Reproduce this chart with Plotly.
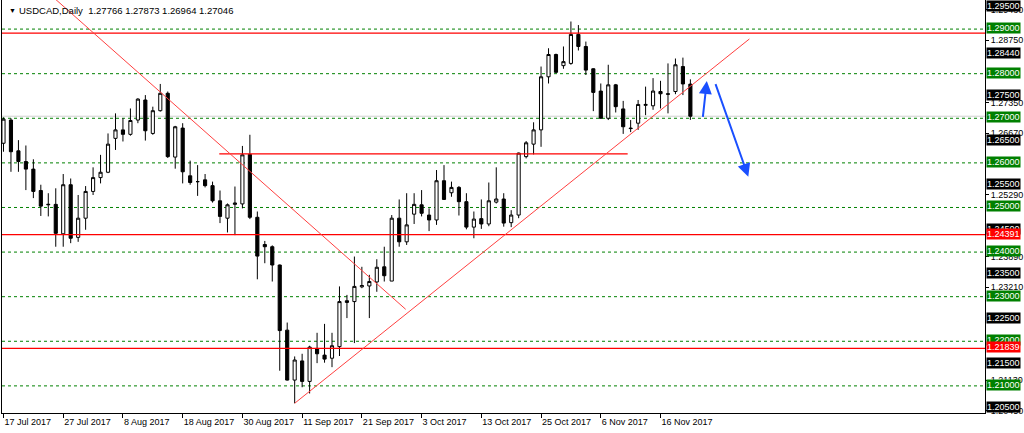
import plotly.graph_objects as go
import pandas as pd

# ---------------- data ----------------
dates = list(pd.bdate_range("2017-07-17", periods=93))

opens = [1.2644, 1.2696, 1.2627, 1.2603, 1.2586, 1.2538, 1.2506, 1.2507, 1.2441, 1.2551,
         1.2433, 1.2476, 1.2536, 1.2567, 1.2579, 1.2655, 1.2674, 1.2664, 1.2696, 1.2741,
         1.2666, 1.2717, 1.2756, 1.2613, 1.2678, 1.2571, 1.2558, 1.2562, 1.2549, 1.2515,
         1.2476, 1.2507, 1.2508, 1.2619, 1.2478, 1.2417, 1.2412, 1.2371, 1.2225, 1.2113,
         1.2156, 1.2110, 1.2184, 1.2169, 1.2162, 1.2188, 1.2287, 1.2289, 1.2322, 1.2324,
         1.2333, 1.2367, 1.2335, 1.2476, 1.2423, 1.2485, 1.2506, 1.2483, 1.2472, 1.2560,
         1.2533, 1.2545, 1.2513, 1.2456, 1.2475, 1.2463, 1.2512, 1.2519, 1.2466, 1.2483,
         1.2614, 1.2642, 1.2674, 1.2793, 1.2843, 1.2818, 1.2823, 1.2888, 1.2861, 1.2811,
         1.2761, 1.2700, 1.2775, 1.2721, 1.2678, 1.2689, 1.2729, 1.2728, 1.2760, 1.2755,
         1.2760, 1.2816, 1.27766]
highs = [1.2702, 1.2700, 1.2651, 1.2639, 1.2608, 1.2551, 1.2532, 1.2543, 1.2575, 1.2565,
         1.2528, 1.2548, 1.2590, 1.2618, 1.2666, 1.2711, 1.2700, 1.2722, 1.2745, 1.2752,
         1.2726, 1.2777, 1.2760, 1.2683, 1.2689, 1.2605, 1.2595, 1.2575, 1.2558, 1.2538,
         1.2509, 1.2547, 1.2638, 1.2663, 1.2491, 1.2425, 1.2415, 1.2372, 1.2242, 1.2166,
         1.2172, 1.2190, 1.2219, 1.2239, 1.2219, 1.2323, 1.2304, 1.2390, 1.2367, 1.2349,
         1.2384, 1.2412, 1.2483, 1.2518, 1.2532, 1.2532, 1.2539, 1.2498, 1.2584, 1.2595,
         1.2558, 1.2548, 1.2532, 1.2491, 1.2518, 1.2556, 1.2590, 1.2532, 1.2494, 1.2623,
         1.2649, 1.2691, 1.2816, 1.2857, 1.2845, 1.2861, 1.2917, 1.2909, 1.2872, 1.2812,
         1.2778, 1.2820, 1.2777, 1.2739, 1.2696, 1.2741, 1.2771, 1.2790, 1.2784, 1.2823,
         1.2834, 1.2836, 1.27873]
lows = [1.2625, 1.2580, 1.2580, 1.2539, 1.2521, 1.2481, 1.2480, 1.2412, 1.2412, 1.2420,
        1.2423, 1.2450, 1.2528, 1.2554, 1.2577, 1.2629, 1.2648, 1.2661, 1.2689, 1.2650,
        1.2663, 1.2715, 1.2611, 1.2587, 1.2554, 1.2551, 1.2526, 1.2545, 1.2511, 1.2465,
        1.2444, 1.2438, 1.2498, 1.2474, 1.2339, 1.2375, 1.2334, 1.2134, 1.2112, 1.2061,
        1.2097, 1.2083, 1.2151, 1.2152, 1.2142, 1.2167, 1.2252, 1.2196, 1.2319, 1.2252,
        1.2311, 1.2334, 1.2335, 1.2412, 1.2416, 1.2463, 1.2480, 1.2447, 1.2461, 1.2517,
        1.2524, 1.2482, 1.2451, 1.2431, 1.2452, 1.2458, 1.2509, 1.2457, 1.2456, 1.2476,
        1.2610, 1.2619, 1.2636, 1.2778, 1.2801, 1.2811, 1.2820, 1.2852, 1.2797, 1.2716,
        1.2699, 1.2696, 1.2713, 1.2665, 1.2669, 1.2674, 1.2707, 1.2719, 1.2722, 1.2711,
        1.2754, 1.2752, 1.26964]
closes = [1.2698, 1.2625, 1.2603, 1.2586, 1.2536, 1.2503, 1.2507, 1.2442, 1.2551, 1.2431,
          1.2476, 1.2536, 1.2567, 1.2579, 1.2642, 1.2674, 1.2664, 1.2695, 1.2743, 1.2672,
          1.2717, 1.2756, 1.2614, 1.2681, 1.2580, 1.2556, 1.2558, 1.2549, 1.2515, 1.2480,
          1.2506, 1.2510, 1.2618, 1.2478, 1.2391, 1.2412, 1.2371, 1.2224, 1.2113, 1.2158,
          1.2110, 1.2187, 1.2172, 1.2160, 1.2190, 1.2289, 1.2291, 1.2323, 1.2325, 1.2334,
          1.2366, 1.2347, 1.2476, 1.2423, 1.2461, 1.2507, 1.2487, 1.2472, 1.2560, 1.2518,
          1.2545, 1.2513, 1.2456, 1.2474, 1.2463, 1.2515, 1.2519, 1.2465, 1.2483, 1.2622,
          1.2645, 1.2674, 1.2793, 1.2843, 1.2803, 1.2827, 1.2888, 1.2861, 1.2808, 1.2758,
          1.2700, 1.2775, 1.2726, 1.2681, 1.2677, 1.2731, 1.2731, 1.2761, 1.2755, 1.2754,
          1.2820, 1.2777, 1.27046]

tick_labels = ["17 Jul 2017", "27 Jul 2017", "8 Aug 2017", "18 Aug 2017", "30 Aug 2017",
               "11 Sep 2017", "21 Sep 2017", "3 Oct 2017", "13 Oct 2017", "25 Oct 2017",
               "6 Nov 2017", "16 Nov 2017"]

green_levels = [1.29, 1.28, 1.27, 1.26, 1.25, 1.24, 1.23, 1.22, 1.21]
red_levels = [1.28910, 1.24391, 1.21839]
red_label_levels = [1.24391, 1.21839]
support_level = 1.2620          # short horizontal
bid_level = 1.27046
black_labels = [1.295, 1.2844, 1.275, 1.265, 1.255, 1.245, 1.235, 1.225, 1.215, 1.205]
plain_ticks = [1.2943, 1.2875, 1.2735, 1.2667, 1.2529, 1.2389, 1.2321, 1.2113, 1.2045]

# trend lines: (bar index, price) end points
down_trend = [(5.0, 1.29960), (53.87, 1.22717)]
up_trend = [(39.0, 1.2061), (99.9, 1.28778)]
support_span = (28.9, 83.6)
arrow_up = [(93.65, 1.2700), (94.2, 1.27836)]
arrow_down = [(95.3, 1.27798), (99.76, 1.25691)]

# ---------------- figure ----------------
x_idx = list(range(len(dates)))
date_str = [f"{d.day} {d.strftime('%b %Y')}" for d in dates]
tickvals = [date_str.index(t) for t in tick_labels]

FONT = "Liberation Sans, Arial, sans-serif"

fig = go.Figure()
fig.add_trace(go.Candlestick(
    x=x_idx, open=opens, high=highs, low=lows, close=closes,
    increasing=dict(fillcolor="white", line=dict(color="black", width=1)),
    decreasing=dict(fillcolor="black", line=dict(color="black", width=1)),
    whiskerwidth=0, hoverinfo="skip", showlegend=False,
))

shapes = []
for lv in green_levels:
    shapes.append(dict(type="line", xref="paper", x0=0, x1=1, yref="y", y0=lv, y1=lv,
                       line=dict(color="#008000", width=1, dash="3px,3px"), layer="below"))
shapes.append(dict(type="line", xref="paper", x0=0, x1=1, yref="y", y0=bid_level, y1=bid_level,
                   line=dict(color="#d0d0d0", width=1), layer="below"))
for lv in red_levels:
    shapes.append(dict(type="line", xref="paper", x0=0, x1=1, yref="y", y0=lv, y1=lv,
                       line=dict(color="#ff0000", width=1.2), layer="above"))
shapes.append(dict(type="line", xref="x", x0=support_span[0], x1=support_span[1], yref="y",
                   y0=support_level, y1=support_level, line=dict(color="#ff0000", width=1.2)))
for seg in (down_trend, up_trend):
    shapes.append(dict(type="line", xref="x", yref="y", x0=seg[0][0], y0=seg[0][1],
                       x1=seg[1][0], y1=seg[1][1], line=dict(color="#ff4040", width=1)))

annotations = []
for seg in (arrow_up, arrow_down):
    annotations.append(dict(x=seg[1][0], y=seg[1][1], ax=seg[0][0], ay=seg[0][1],
                            xref="x", yref="y", axref="x", ayref="y", text="",
                            showarrow=True, arrowhead=2, arrowsize=1.3, arrowwidth=2,
                            arrowcolor="#1a4fff"))


def box_label(value, bg, fg="white"):
    return dict(x=1, xref="paper", xanchor="left", y=value, yref="y", yanchor="middle",
                yshift=1, text=f"{value:.5f}", showarrow=False, bgcolor=bg, borderpad=0,
                font=dict(family=FONT, size=9, color=fg), xshift=1)


for v in black_labels:
    annotations.append(box_label(v, "black"))
for v in green_levels:
    annotations.append(box_label(v, "#008000"))
for v in red_label_levels:
    annotations.append(box_label(v, "#ff0000"))

header = (f"USDCAD,Daily  {opens[-1]:.5f} {highs[-1]:.5f} "
          f"{lows[-1]:.5f} {closes[-1]:.5f}")
annotations.append(dict(x=0, xref="paper", xanchor="left", xshift=5, y=1, yref="paper",
                        yanchor="top", yshift=-5, text="▼", showarrow=False,
                        font=dict(family=FONT, size=7, color="black")))
annotations.append(dict(x=0, xref="paper", xanchor="left", xshift=15, y=1, yref="paper",
                        yanchor="top", yshift=-3, text=header, showarrow=False,
                        font=dict(family=FONT, size=9.5, color="black")))

fig.update_layout(
    width=1024, height=433,
    margin=dict(l=2, r=39, t=0, b=20),
    paper_bgcolor="white", plot_bgcolor="white",
    boxgap=0.4,
    shapes=shapes, annotations=annotations,
    showlegend=False,
    font=dict(family=FONT, size=9, color="black"),
)
fig.update_xaxes(
    range=[-0.2, 131.46], rangeslider=dict(visible=False),
    tickvals=tickvals, ticktext=tick_labels, ticklabelposition="outside right",
    ticks="outside", ticklen=4, tickcolor="black", showgrid=False, zeroline=False,
    showline=True, linecolor="black", linewidth=1,
    tickfont=dict(family=FONT, size=9, color="black"),
)
fig.update_yaxes(
    range=[1.20392, 1.29652], side="right",
    tickvals=plain_ticks, ticktext=[f"{v:.5f}" for v in plain_ticks],
    ticks="outside", ticklen=3, tickcolor="black", showgrid=False, zeroline=False,
    showline=True, mirror=True, linecolor="black", linewidth=1,
    tickfont=dict(family=FONT, size=9, color="black"),
)

fig.write_html("out.html", config={"displayModeBar": False},
               post_script="document.body.style.margin='0';document.body.style.overflow='hidden';")
